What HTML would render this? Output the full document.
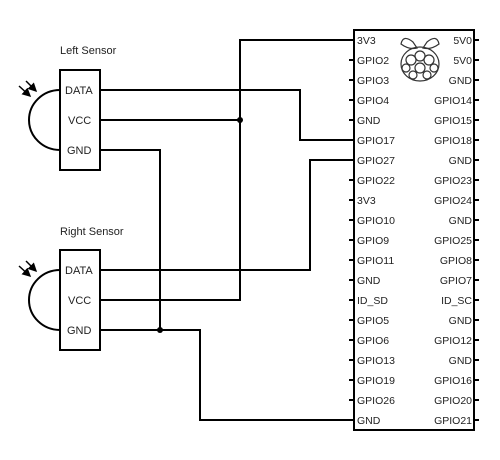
<html><body style="margin:0;background:#fff">
<svg width="500" height="460" xmlns="http://www.w3.org/2000/svg" font-family="Liberation Sans, sans-serif">
<defs><marker id="a" markerWidth="6" markerHeight="6" refX="5" refY="3" orient="auto"><path d="M0,0 L6,3 L0,6z" fill="#000"/></marker></defs>
<g fill="none" stroke="#000" stroke-width="2">
<rect x="60" y="70" width="40" height="100"/>
<rect x="60" y="250" width="40" height="100"/>
<path d="M60,90 A31,30 0 0 0 60,150"/>
<path d="M60,270 A31,30 0 0 0 60,330"/>
<rect x="354" y="30" width="120" height="400"/>
<path d="M354,40 H240 V300 H100"/>
<path d="M100,120 H240"/>
<path d="M100,90 H300 V140 H354"/>
<path d="M100,150 H160 V330"/>
<path d="M354,160 H310 V270 H100"/>
<path d="M100,330 H200 V420 H354"/>
</g>
<g stroke="#000" stroke-width="1.5" marker-end="url(#a)">
<line x1="19" y1="86" x2="30" y2="96"/><line x1="26" y1="81" x2="36" y2="91"/>
<line x1="19" y1="266" x2="30" y2="276"/><line x1="26" y1="261" x2="36" y2="271"/>
</g>
<circle cx="240" cy="120" r="3"/><circle cx="160" cy="330" r="3"/>
<g stroke="#000" stroke-width="2">
<path d="M349,60H354M349,80H354M349,100H354M349,120H354M349,140H354M349,180H354M349,200H354M349,220H354M349,240H354M349,260H354M349,280H354M349,300H354M349,320H354M349,340H354M349,360H354M349,380H354M349,400H354"/>
<path d="M474,40H479M474,60H479M474,80H479M474,100H479M474,120H479M474,140H479M474,160H479M474,180H479M474,200H479M474,220H479M474,240H479M474,260H479M474,280H479M474,300H479M474,320H479M474,340H479M474,360H479M474,380H479M474,400H479M474,420H479"/>
</g>
<g fill="none" stroke="#333" stroke-width="1.2">
<path d="M413,42 q-10,-8 -12,2 q8,6 16,4 z M427,42 q10,-8 12,2 q-8,6 -16,4 z"/>
<ellipse cx="420" cy="64" rx="19" ry="17"/>
<circle cx="420" cy="56" r="5"/><circle cx="411" cy="60" r="5"/><circle cx="429" cy="60" r="5"/>
<circle cx="406" cy="68" r="4"/><circle cx="434" cy="68" r="4"/><circle cx="420" cy="68" r="5"/>
<circle cx="413" cy="75" r="4"/><circle cx="427" cy="75" r="4"/>
</g>
<g font-size="11" fill="#222">
<text x="60" y="54">Left Sensor</text>
<text x="60" y="235">Right Sensor</text>
<text x="65" y="94">DATA</text><text x="68" y="124">VCC</text><text x="67" y="154">GND</text>
<text x="65" y="274">DATA</text><text x="68" y="304">VCC</text><text x="67" y="334">GND</text>
</g>
<g font-size="10.5" fill="#222">
<g>
<text x="357" y="44">3V3</text><text x="357" y="64">GPIO2</text><text x="357" y="84">GPIO3</text><text x="357" y="104">GPIO4</text><text x="357" y="124">GND</text><text x="357" y="144">GPIO17</text><text x="357" y="164">GPIO27</text><text x="357" y="184">GPIO22</text><text x="357" y="204">3V3</text><text x="357" y="224">GPIO10</text><text x="357" y="244">GPIO9</text><text x="357" y="264">GPIO11</text><text x="357" y="284">GND</text><text x="357" y="304">ID_SD</text><text x="357" y="324">GPIO5</text><text x="357" y="344">GPIO6</text><text x="357" y="364">GPIO13</text><text x="357" y="384">GPIO19</text><text x="357" y="404">GPIO26</text><text x="357" y="424">GND</text>
</g>
<g text-anchor="end">
<text x="472" y="44">5V0</text><text x="472" y="64">5V0</text><text x="472" y="84">GND</text><text x="472" y="104">GPIO14</text><text x="472" y="124">GPIO15</text><text x="472" y="144">GPIO18</text><text x="472" y="164">GND</text><text x="472" y="184">GPIO23</text><text x="472" y="204">GPIO24</text><text x="472" y="224">GND</text><text x="472" y="244">GPIO25</text><text x="472" y="264">GPIO8</text><text x="472" y="284">GPIO7</text><text x="472" y="304">ID_SC</text><text x="472" y="324">GND</text><text x="472" y="344">GPIO12</text><text x="472" y="364">GND</text><text x="472" y="384">GPIO16</text><text x="472" y="404">GPIO20</text><text x="472" y="424">GPIO21</text>
</g>
</g>
</svg>
</body></html>
